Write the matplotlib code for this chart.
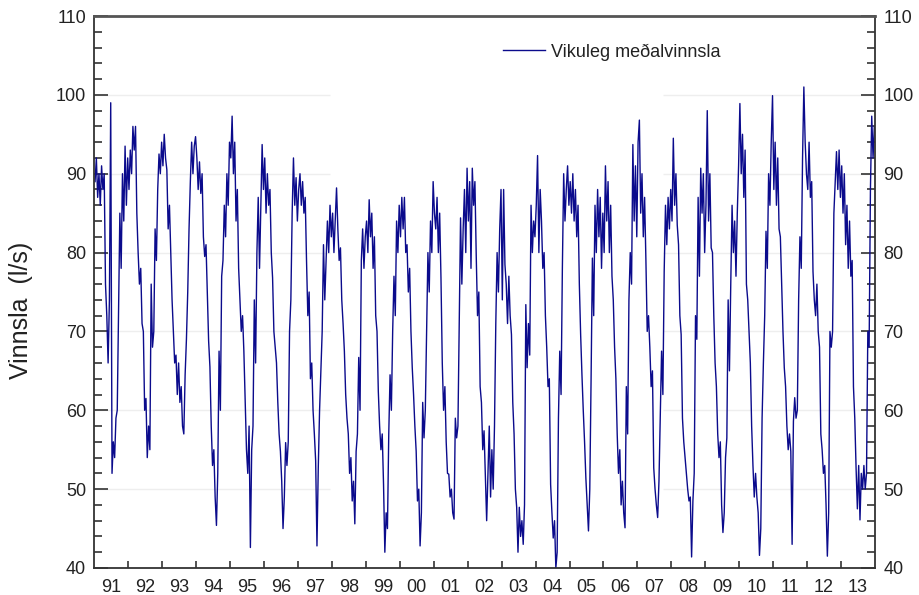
import matplotlib
matplotlib.use("Agg")
import matplotlib.pyplot as plt
from matplotlib.ticker import MultipleLocator, FixedLocator, FixedFormatter, NullFormatter
import numpy as np

plt.rcParams['font.family'] = ['Liberation Sans', 'DejaVu Sans']

# ---- data: weekly mean production (l/s), 26 samples per year ----
years = list(range(1991, 2014))
y1991 = [89, 92, 87, 90, 86, 91, 88, 90, 76, 72, 66, 74, 99, 52, 56, 54, 59, 60, 73, 85, 78, 90, 84, 93.5, 86, 92]
y1992 = [88, 93, 90, 96, 93, 96, 85, 80, 76, 78, 71, 70, 60, 61.5, 54, 58, 55, 76, 68, 70, 83, 79, 88, 92.5, 90, 94]
y1993 = [91, 95, 92, 90.5, 83, 86, 80, 74, 70, 66, 67, 62, 66, 61, 63, 58, 57, 64.5, 69, 75, 83, 89, 94, 90, 93.5, 94.7]
y1994 = [92, 88, 91.5, 87.5, 90, 82, 79.5, 81, 75, 68.8, 65.5, 58, 53, 55, 49, 45.4, 52, 67.5, 60, 77, 79, 86, 82, 90, 86, 94]
y1995 = [92, 97.3, 90, 94, 84, 88, 78, 74, 70, 72, 67.5, 61, 55, 52, 58, 42.6, 55, 58, 74, 66, 80, 87, 78, 86, 93.7, 88]
y1996 = [92, 85, 90, 86, 88, 80, 76.8, 70, 68, 66, 61, 57, 54.8, 51, 45, 49, 55.9, 53, 56, 70, 74, 85, 92, 86, 89.5, 84]
y1997 = [88, 90, 86, 89, 85, 87, 79, 72, 75, 64, 66, 60, 57, 53.6, 42.8, 52.7, 60, 65, 70, 81, 74, 79, 84, 80, 86, 82]
y1998 = [85, 80, 84, 88.2, 83, 79, 80.6, 74, 71, 67.5, 62, 59, 57, 52, 54, 48.5, 51, 45.6, 54.8, 57, 66.7, 60, 79, 83, 78, 82]
y1999 = [84, 80, 86.7, 82, 85, 78, 82, 72, 70, 62.4, 58, 55, 57, 50.6, 42, 47, 45, 57, 64.5, 60, 70, 77, 72, 84, 80, 86]
y2000 = [82, 87, 83, 87, 80, 81, 75, 78, 70, 65.4, 62, 58, 54.8, 48.5, 50, 42.8, 47, 61, 56.5, 60, 69.6, 80, 75, 84, 80, 89]
y2001 = [85, 83, 87, 80, 85, 76.8, 66, 60, 63, 56, 52, 51.9, 49, 50, 47, 46.2, 59, 56.5, 58, 71.7, 84.4, 76, 83, 88, 80, 90.7]
y2002 = [84, 89, 78, 90.7, 86, 89, 79.7, 72, 75, 63, 61, 55, 57.4, 51.8, 46, 52, 58, 49, 55, 50, 58, 71, 80, 75, 83, 88]
y2003 = [74, 88, 78.5, 76, 71, 77, 72, 69.6, 61, 57, 50, 47.7, 42, 47.7, 44, 46, 43, 48, 73.4, 65.4, 71, 67, 86, 80, 84, 82]
y2004 = [86, 92.3, 80, 88, 84, 78, 80, 72, 68, 63, 64, 50.6, 47, 43.8, 46, 40, 42, 59, 67.5, 62, 78, 90, 84, 88, 91, 86]
y2005 = [89, 85, 90, 84, 88, 82, 86, 76, 69.6, 64.5, 60, 56, 51.4, 48, 44.7, 50, 64, 79.3, 72, 86, 80, 88, 82, 87, 78, 85]
y2006 = [80, 91, 84, 89, 80, 86, 77, 74, 68, 64, 57, 52, 55, 48, 51, 47, 45.1, 63, 57, 74, 80, 76, 93.7, 84, 91, 82]
y2007 = [94, 96.8, 85, 90, 82, 87, 79, 70, 72, 68, 63, 65, 52.7, 50, 48, 46.4, 51, 59, 67.5, 62, 77.6, 86, 81, 87, 83, 88]
y2008 = [84, 94.5, 86, 90, 83.5, 81, 72, 69.6, 59, 56, 54, 52, 50, 48.5, 49, 41.4, 48.5, 52, 72, 69, 87, 77, 90.7, 85, 90, 80]
y2009 = [86, 98, 84, 90, 80.6, 80, 72, 66, 63, 57, 54, 56, 48, 44.5, 47, 54, 56.5, 74, 65, 76, 86, 80, 84, 77, 85, 91]
y2010 = [98.9, 90, 95, 87, 93, 76, 74, 70, 66, 58, 53, 49, 52, 49, 47, 41.6, 45, 59, 66, 72, 82.7, 78, 90, 86, 94, 99.9]
y2011 = [88, 94, 86, 92, 83, 82, 76, 70, 65.4, 63, 58, 55, 57, 54.8, 43, 58.6, 61.6, 59, 60, 74, 82, 78, 92, 101, 94, 90]
y2012 = [88, 94, 87, 89, 77.6, 74, 72, 76, 70, 68, 57, 55, 52, 53, 48, 41.5, 47, 70, 68, 70, 85, 89, 92.8, 88, 93, 87]
y2013 = [91, 85, 90, 81, 86, 78, 84, 77, 79, 63, 59, 52.7, 47.5, 53, 46.1, 52, 50, 53, 50, 52, 70, 68, 88, 97.3, 92, 96]

series = [y1991, y1992, y1993, y1994, y1995, y1996, y1997, y1998, y1999, y2000, y2001, y2002,
          y2003, y2004, y2005, y2006, y2007, y2008, y2009, y2010, y2011, y2012, y2013]
year_labels = ['91', '92', '93', '94', '95', '96', '97', '98', '99', '00', '01', '02',
               '03', '04', '05', '06', '07', '08', '09', '10', '11', '12', '13']
legend_label = 'Vikuleg meðalvinnsla'
y_label = 'Vinnsla  (l/s)'

t = []
v = []
for yr, vals in zip(years, series):
    n = len(vals)
    for k, val in enumerate(vals):
        t.append(yr + (k + 0.5) / n)
        v.append(val)

# ---- figure ----
fig = plt.figure(figsize=(9.2, 5.95), dpi=100)
ax = fig.add_axes([94.4 / 920, 1 - 568 / 595, (875 - 94.4) / 920, (568 - 16) / 595])

x0, x1 = 1991.0, 2014.0
ax.set_xlim(x0, x1)
ax.set_ylim(40, 110)

# faint gridlines (hidden behind the legend area in the original)
gap_a, gap_b = 1997.94, 2007.76
for gy in [50, 60, 70, 80, 90, 100]:
    ax.hlines(gy, x0, gap_a, color='#eeeeee', lw=1.0, zorder=0)
    ax.hlines(gy, gap_b, x1, color='#eeeeee', lw=1.0, zorder=0)

ax.plot(t, v, color='#0b0b8c', lw=1.0, label=legend_label, zorder=2)

# y axis
ax.yaxis.set_major_locator(MultipleLocator(10))
ax.yaxis.set_minor_locator(MultipleLocator(2))
ax.tick_params(axis='y', which='both', direction='in', left=True, right=True,
               labelleft=True, labelright=True, colors='#333333', labelcolor='#222222',
               labelsize=13, width=1.2)
ax.tick_params(axis='y', which='major', length=10, pad=6)
ax.tick_params(axis='y', which='minor', length=5.5)
ax.tick_params(axis='y', which='major', labelright=True)
for lab in ax.get_yticklabels(which='major'):
    pass

# x axis: ticks at year boundaries, labels at mid-year
ax.xaxis.set_major_locator(FixedLocator([y for y in years[1:]]))
ax.xaxis.set_major_formatter(NullFormatter())
ax.xaxis.set_minor_locator(FixedLocator([y + 0.5 for y in years]))
ax.xaxis.set_minor_formatter(FixedFormatter(year_labels))
ax.tick_params(axis='x', which='major', direction='in', length=5, width=1.2, colors='#333333', top=False)
ax.tick_params(axis='x', which='minor', length=0, labelsize=13, labelcolor='#222222', pad=8)

for side in ['left', 'right', 'bottom']:
    ax.spines[side].set_color('#333333')
    ax.spines[side].set_linewidth(1.3)
ax.spines['top'].set_color('#555555')
ax.spines['top'].set_linewidth(2.0)

ax.set_ylabel(y_label, fontsize=18, color='#222222')
ax.yaxis.set_label_coords((33 - 94.4) / 780.6, 0.467)

leg = ax.legend(loc='center left', bbox_to_anchor=((503 - 94.4) / 780.6, 1 - (52 - 16) / 552),
                frameon=False, fontsize=13, handlelength=2.35, handletextpad=0.3,
                borderpad=0, borderaxespad=0)
for txt in leg.get_texts():
    txt.set_color('#222222')

fig.savefig('out.png', dpi=100)
